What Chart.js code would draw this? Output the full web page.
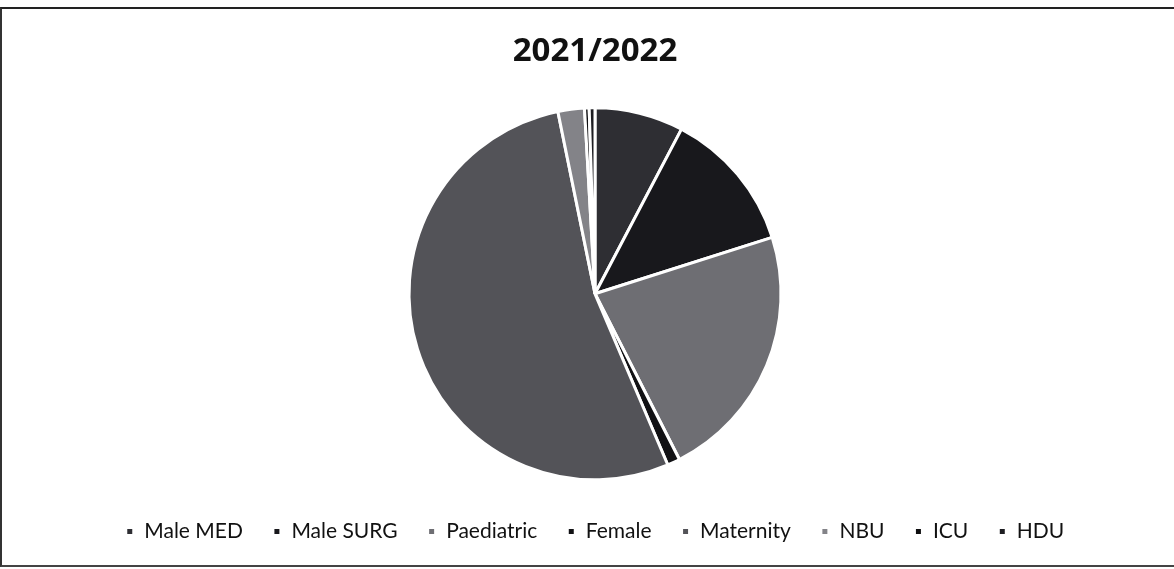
<!DOCTYPE html>
<html>
<head>
<meta charset="utf-8">
<script src="https://cdn.jsdelivr.net/npm/chart.js@4.4.1/dist/chart.umd.min.js"></script>
<style>
  html, body { margin: 0; padding: 0; background: #fff; }
  #wrap { position: relative; width: 1174px; height: 569px; }
  #frame { position: absolute; left: 0; top: 7px; width: 1172px; height: 556px;
           border-top: 2px solid #222; border-bottom: 2px solid #444; border-left: 2px solid #333; pointer-events: none; }
</style>
</head>
<body>
<div id="wrap">
  <canvas id="chart-wards" width="1174" height="569"></canvas>
  <div id="frame"></div>
</div>
<script>
// Ward share 2021/2022 (in %)
const WARDS  = ['Male MED', 'Male SURG', 'Paediatric', 'Female', 'Maternity', 'NBU', 'ICU', 'HDU'];
const SHARES = [7.7, 12.4, 22.4, 1.1, 53.2, 2.3, 0.4, 0.5];
const COLORS = ['#2e2e33', '#18181c', '#6e6e73', '#111114', '#535358', '#838388', '#0e0e10', '#1d1d21'];

new Chart(document.getElementById('chart-wards').getContext('2d'), {
    type: 'pie',
    data: {
        labels: WARDS,
        datasets: [{
            data: SHARES,
            backgroundColor: COLORS,
            borderColor: '#ffffff', borderWidth: 3,
            radius: 186
        }]
    },
    options: {
        responsive: false, animation: false,
        layout: { padding: { left: 16, bottom: 17 } },
        plugins: {
            title: {
                display: true, text: '2021/2022', color: '#111',
                font: { family: 'Open Sans', size: 33, weight: 'bold' },
                padding: { top: 32, bottom: 25 }
            },
            legend: {
                position: 'bottom',
                labels: {
                    boxWidth: 8, boxHeight: 8, padding: 30, color: '#111',
                    font: { family: 'Lato', size: 21 }
                }
            },
            tooltip: { enabled: false }
        }
    }
});
</script>
</body>
</html>
